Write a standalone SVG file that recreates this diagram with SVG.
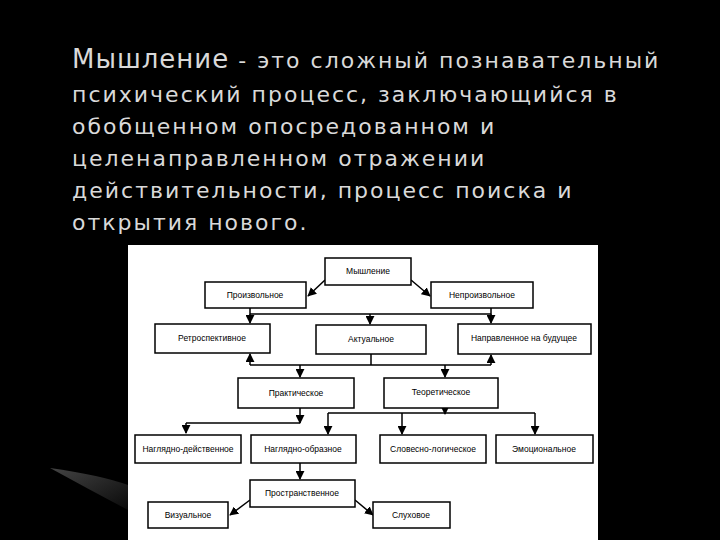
<svg xmlns="http://www.w3.org/2000/svg" width="720" height="540" viewBox="0 0 720 540">
<defs>
<marker id="a" viewBox="0 0 10 10" refX="9" refY="5" markerWidth="6" markerHeight="6" orient="auto"><path d="M0,0 L10,5 L0,10 z" fill="#000"/></marker>
<linearGradient id="sw" x1="0" y1="0" x2="1" y2="1"><stop offset="0" stop-color="#444"/><stop offset="1" stop-color="#0a0a0a"/></linearGradient>
<style>
.t{font-family:"DejaVu Sans",sans-serif;fill:#d9d9d9;font-size:22px;letter-spacing:2px}
.b{fill:#fff;stroke:#000;stroke-width:1.5}
.l{font-family:"Liberation Sans",Arial,sans-serif;font-size:8.5px;fill:#000;text-anchor:middle}
.c{stroke:#000;stroke-width:1.5;fill:none}
</style>
</defs>
<rect width="720" height="540" fill="#000"/>
<path d="M50,468 Q100,475 128,485 L128,510 Q90,490 50,468 z" fill="url(#sw)"/>
<text class="t" x="72" y="68"><tspan font-size="26" letter-spacing="1">Мышление</tspan> - это сложный познавательный</text>
<text class="t" x="72" y="102">психический процесс, заключающийся в</text>
<text class="t" x="72" y="134">обобщенном опосредованном и</text>
<text class="t" x="72" y="166">целенаправленном отражении</text>
<text class="t" x="72" y="198">действительности, процесс поиска и</text>
<text class="t" x="72" y="230">открытия нового.</text>
<rect x="128" y="245" width="470" height="295" fill="#fff"/>
<g id="connectors">
<path class="c" d="M325,280 L308,296" marker-end="url(#a)"/>
<path class="c" d="M411,280 L430,296" marker-end="url(#a)"/>
<path class="c" d="M250,308 V314 H491 V308"/>
<path class="c" d="M250,314 V323" marker-end="url(#a)"/>
<path class="c" d="M370,314 V324" marker-end="url(#a)"/>
<path class="c" d="M491,314 V323" marker-end="url(#a)"/>
<path class="c" d="M371,354 V365 M250,365 H491"/>
<path class="c" d="M250,365 V354" marker-end="url(#a)"/>
<path class="c" d="M491,365 V355" marker-end="url(#a)"/>
<path class="c" d="M300,365 V377" marker-end="url(#a)"/>
<path class="c" d="M445,365 V377" marker-end="url(#a)"/>
<path class="c" d="M300,408 V423" marker-end="url(#a)"/>
<path class="c" d="M186,423 H300"/>
<path class="c" d="M186,423 V433" marker-end="url(#a)"/>
<path class="c" d="M445,408 V414" marker-end="url(#a)"/>
<path class="c" d="M328,413 H535" stroke-width="2.5"/>
<path class="c" d="M328,413 V434" marker-end="url(#a)"/>
<path class="c" d="M402,413 V434" marker-end="url(#a)"/>
<path class="c" d="M535,413 V434" marker-end="url(#a)"/>
<path class="c" d="M300,463 V479" marker-end="url(#a)"/>
<path class="c" d="M250,500 L230,515" marker-end="url(#a)"/>
<path class="c" d="M355,500 L373,515" marker-end="url(#a)"/>
</g>
<g id="n1"><rect class="b" x="325" y="258" width="86" height="27"/><text class="l" x="368" y="274">Мышление</text></g>
<g id="n2"><rect class="b" x="205" y="282" width="101" height="26"/><text class="l" x="255" y="298">Произвольное</text></g>
<g id="n3"><rect class="b" x="431" y="282" width="102" height="26"/><text class="l" x="482" y="298">Непроизвольное</text></g>
<g id="n4"><rect class="b" x="155" y="324" width="115" height="29"/><text class="l" x="212" y="341">Ретроспективное</text></g>
<g id="n5"><rect class="b" x="316" y="325" width="110" height="29"/><text class="l" x="371" y="342">Актуальное</text></g>
<g id="n6"><rect class="b" x="458" y="324" width="133" height="30"/><text class="l" x="524" y="341">Направленное на будущее</text></g>
<g id="n7"><rect class="b" x="238" y="378" width="116" height="30"/><text class="l" x="296" y="396">Практическое</text></g>
<g id="n8"><rect class="b" x="384" y="378" width="114" height="30"/><text class="l" x="441" y="395">Теоретическое</text></g>
<g id="n9"><rect class="b" x="135" y="435" width="106" height="28"/><text class="l" x="188" y="452">Наглядно-действенное</text></g>
<g id="n10"><rect class="b" x="251" y="435" width="105" height="28"/><text class="l" x="303" y="452">Наглядно-образное</text></g>
<g id="n11"><rect class="b" x="380" y="435" width="106" height="28"/><text class="l" x="433" y="452">Словесно-логическое</text></g>
<g id="n12"><rect class="b" x="496" y="435" width="97" height="28"/><text class="l" x="544" y="452">Эмоциональное</text></g>
<g id="n13"><rect class="b" x="250" y="480" width="105" height="27"/><text class="l" x="302" y="496">Пространственное</text></g>
<g id="n14"><rect class="b" x="148" y="502" width="80" height="26"/><text class="l" x="188" y="518">Визуальное</text></g>
<g id="n15"><rect class="b" x="373" y="502" width="77" height="26"/><text class="l" x="411" y="518">Слуховое</text></g>
</svg>
